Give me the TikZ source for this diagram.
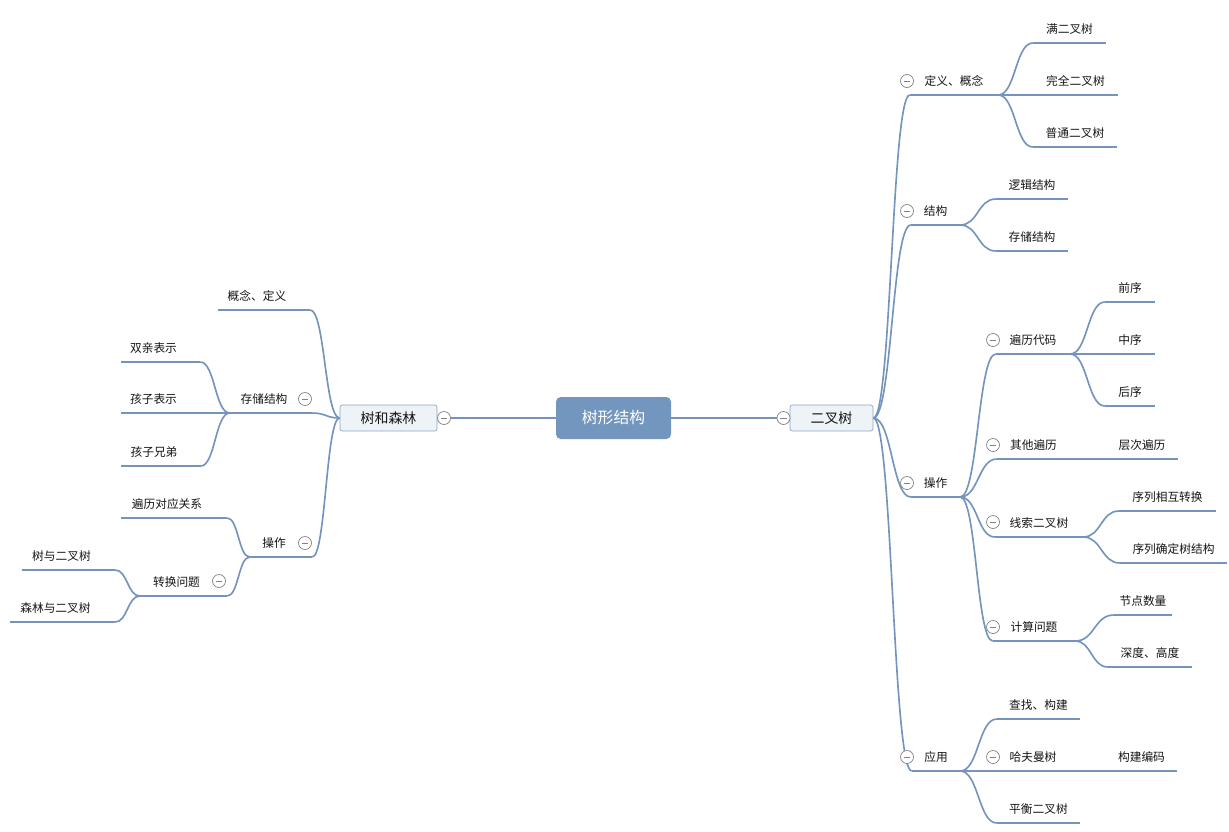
\documentclass[tikz,border=0pt]{standalone}
\usepackage{fontspec}
\setmainfont{Noto Sans CJK SC}
\usetikzlibrary{calc}
\definecolor{lnc}{RGB}{116,148,190}
\definecolor{rootc}{RGB}{114,150,190}
\definecolor{boxf}{RGB}{238,243,248}
\definecolor{boxb}{RGB}{140,165,196}
\definecolor{foldc}{RGB}{130,130,130}
\definecolor{txt}{RGB}{20,20,20}
\tikzset{
  ln/.style={draw=lnc, line width=1.4pt},
  tp/.style={anchor=south, minimum width=#1*0.03cm, inner xsep=0pt, inner ysep=7pt,
    text height=8pt, text depth=1pt, font=\fontsize{10}{12}\selectfont, text=txt},
  tpl/.style={tp=#1, execute at end node={\hspace*{0.42cm}}},
  fold/.style={circle, draw=foldc, fill=white, line width=.6pt, minimum size=13*0.03cm, inner sep=0pt,
    path picture={\draw[foldc, line width=.6pt] ([xshift=-2.8pt]path picture bounding box.center)
      -- ([xshift=2.8pt]path picture bounding box.center);}},
  box/.style={draw=boxb, fill=boxf, line width=.6pt, rounded corners=2pt, minimum width=#1*0.03cm,
    minimum height=26*0.03cm, inner sep=0pt, font=\fontsize{11.9}{14}\selectfont, text=txt},
  root/.style={fill=rootc, rounded corners=4pt, text=white, minimum width=115*0.03cm,
    minimum height=42*0.03cm, inner sep=0pt, font=\fontsize{13.5}{16}\selectfont}
}
\begin{document}
\begin{tikzpicture}[x=0.03cm,y=-0.03cm]
\useasboundingbox (0,0) rectangle (1229,831);
% centre and the two main topics
\node[root] (root) at (613.5,418) {树形结构};
\node[box=83] (bt) at (831.5,418) {二叉树};
\node[box=97] (sl) at (388.5,418) {树和森林};
\node[fold] (btf) at (783.5,418) {};
\node[fold] (slf) at (444,418) {};
\draw[ln] (root.east) -- (btf.west);
\draw[ln] (root.west) -- (slf.east);
% right side
\node[tp=88] (dy) at (954,95) {定义、概念};
\node[tp=73] (mzs) at (1069.5,43) {满二叉树};
\node[tp=85] (wq) at (1075.5,95) {完全二叉树};
\node[tp=84] (pt) at (1075,147) {普通二叉树};
\node[tp=49] (jg) at (935.5,225) {结构};
\node[tp=72] (ljjg) at (1032,199) {逻辑结构};
\node[tp=72] (ccjg) at (1032,251) {存储结构};
\node[tp=49] (cz) at (935.5,497) {操作};
\node[tp=74] (bldm) at (1033,354) {遍历代码};
\node[tp=50] (qx) at (1130,302) {前序};
\node[tp=50] (zx) at (1130,354) {中序};
\node[tp=50] (hx) at (1130,406) {后序};
\node[tp=73] (qtbl) at (1033.5,459) {其他遍历};
\node[tp=72] (ccbl) at (1142,459) {层次遍历};
\node[tp=88] (xsecs) at (1039,537) {线索二叉树};
\node[tp=97] (xlhz) at (1167.5,511) {序列相互转换};
\node[tp=107] (xlqd) at (1173.5,563) {序列确定树结构};
\node[tp=82] (jswt) at (1034,641) {计算问题};
\node[tp=58] (jdsl) at (1143,615) {节点数量};
\node[tp=84] (sdgd) at (1150,667) {深度、高度};
\node[tp=48] (yy) at (936,771) {应用};
\node[tp=83] (czgj) at (1038.5,719) {查找、构建};
\node[tp=94] (hfms) at (1033,771) {哈夫曼树};
\node[tp=71] (gjbm) at (1141.5,771) {构建编码};
\node[tp=83] (phecs) at (1038.5,823) {平衡二叉树};
% left side
\node[tpl=92] (gndy) at (264,310) {概念、定义};
\node[tpl=82] (cc) at (271,413) {存储结构};
\node[tpl=79] (sqbs) at (160.5,362) {双亲表示};
\node[tpl=79] (hzbs) at (160.5,413) {孩子表示};
\node[tpl=79] (hzxd) at (161,466) {孩子兄弟};
\node[tpl=62] (czl) at (281,557) {操作};
\node[tpl=106] (bldy) at (174,518) {遍历对应关系};
\node[tpl=87] (zhwt) at (183.5,596) {转换问题};
\node[tpl=93] (esh) at (68.5,570) {树与二叉树};
\node[tpl=105] (slesh) at (62.5,622) {森林与二叉树};
% underlines
\foreach \n in {dy,mzs,wq,pt,jg,ljjg,ccjg,cz,bldm,qx,zx,hx,qtbl,ccbl,xsecs,xlhz,xlqd,
  jswt,jdsl,sdgd,yy,czgj,hfms,gjbm,phecs,gndy,cc,sqbs,hzbs,hzxd,czl,bldy,zhwt,esh,slesh}
  \draw[ln] (\n.south west) -- (\n.south east);
% curved connectors
\foreach \c in {dy,jg,cz,yy}
  \draw[ln] let \p1=(bt.east), \p2=(\c.south west) in
    (\p1) .. controls +({(\x2-\x1)/2},0pt) and +({(\x1-\x2)/2},0pt) .. (\p2);
\foreach \c in {gndy,cc,czl}
  \draw[ln] let \p1=(sl.west), \p2=(\c.south east) in
    (\p1) .. controls +({(\x2-\x1)/2},0pt) and +({(\x1-\x2)/2},0pt) .. (\p2);
\foreach \a/\c in {dy/mzs,dy/wq,dy/pt,jg/ljjg,jg/ccjg,cz/bldm,cz/qtbl,cz/xsecs,cz/jswt,
  bldm/qx,bldm/zx,bldm/hx,qtbl/ccbl,xsecs/xlhz,xsecs/xlqd,jswt/jdsl,jswt/sdgd,
  yy/czgj,yy/hfms,yy/phecs,hfms/gjbm}
  \draw[ln] let \p1=(\a.south east), \p2=(\c.south west) in
    (\p1) .. controls +({(\x2-\x1)/2},0pt) and +({(\x1-\x2)/2},0pt) .. (\p2);
\foreach \a/\c in {cc/sqbs,cc/hzbs,cc/hzxd,czl/bldy,czl/zhwt,zhwt/esh,zhwt/slesh}
  \draw[ln] let \p1=(\a.south west), \p2=(\c.south east) in
    (\p1) .. controls +({(\x2-\x1)/2},0pt) and +({(\x1-\x2)/2},0pt) .. (\p2);
% fold markers
\foreach \n/\x/\y in {dyf/907/81,jgf/907/211,czf/907/483,yyf/907/757,bldmf/993/340,
  qtblf/993/445,xsecsf/993/522,jswtf/993/627,hfmsf/993/757,ccf/305/399,czlf/305/543,zhwtf/219/581}
  \node[fold] (\n) at (\x,\y) {};
\end{tikzpicture}
\end{document}
